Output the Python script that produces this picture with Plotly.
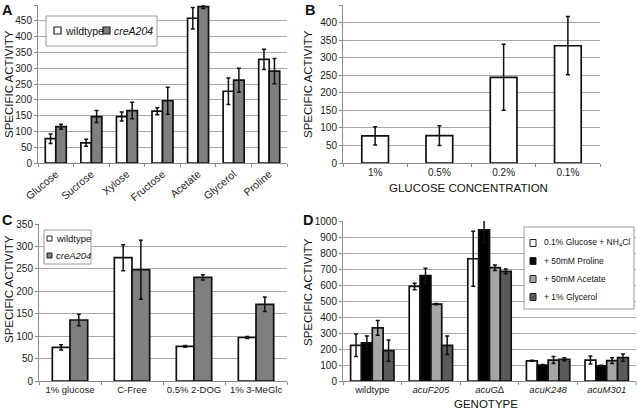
import plotly.graph_objects as go

W, H = 637, 412
FONT = "Liberation Sans, Arial, sans-serif"

# ---------------- data ----------------
a_cats = ["Glucose", "Sucrose", "Xylose", "Fructose", "Acetate", "Glycerol", "Proline"]
a_wt = [77, 64, 147, 164, 458, 227, 328]
a_wt_err = [15, 11, 14, 11, 34, 42, 32]
a_cre = [115, 147, 166, 197, 495, 262, 291]
a_cre_err = [8, 19, 26, 43, 6, 38, 40]

b_cats = ["1%", "0.5%", "0.2%", "0.1%"]
b_vals = [77, 78, 244, 334]
b_err = [26, 28, 94, 83]

c_cats = ["1% glucose", "C-Free", "0.5% 2-DOG", "1% 3-MeGlc"]
c_wt = [75, 275, 77, 97]
c_wt_err = [6, 29, 2, 2]
c_cre = [136, 248, 231, 171]
c_cre_err = [13, 66, 6, 16]

d_cats = ["wildtype", "acuF205", "acuGΔ", "acuK248", "acuM301"]
d_ticktext = ["wildtype", "<i>acuF205</i>", "<i>acuG</i>∆", "<i>acuK248</i>", "<i>acuM301</i>"]
d_names = ["0.1% Glucose + NH<sub>4</sub>Cl", "+ 50mM Proline", "+ 50mM Acetate", "+ 1% Glycerol"]
d_glucose = [223, 591, 764, 126, 131]
d_glucose_err = [70, 20, 172, 3, 25]
d_proline = [238, 658, 944, 100, 95]
d_proline_err = [44, 47, 78, 3, 3]
d_acetate = [332, 480, 708, 131, 127]
d_acetate_err = [46, 4, 17, 22, 18]
d_glycerol = [190, 223, 685, 136, 146]
d_glycerol_err = [66, 58, 15, 9, 23]

# ---------------- style ----------------
WHITE = "#ffffff"
GRAY = "#7f7f7f"
BLACK = "#000000"
LGRAY = "#a6a6a6"
DGRAY = "#5a5a5a"
GRID = "#a9a9a9"
AXIS = "#8c8c8c"


def X(px):
    return px / W


def Y(py):
    return 1 - py / H


fig = go.Figure()


def bar(x, y, err, color, xa, ya, width, offset):
    fig.add_trace(go.Bar(
        x=x, y=y, xaxis=xa, yaxis=ya,
        width=width, offset=offset,
        marker=dict(color=color, line=dict(color="#111111", width=1.7)),
        error_y=dict(type="data", array=err, visible=True, color="#111111", thickness=1.5, width=2),
        cliponaxis=False, showlegend=False,
    ))


# Panel A
bar(a_cats, a_wt, a_wt_err, WHITE, "x", "y", 0.295, -0.295)
bar(a_cats, a_cre, a_cre_err, GRAY, "x", "y", 0.295, 0.0)
# Panel B
bar(b_cats, b_vals, b_err, WHITE, "x2", "y2", 0.415, -0.2075)
# Panel C
bar(c_cats, c_wt, c_wt_err, WHITE, "x3", "y3", 0.285, -0.285)
bar(c_cats, c_cre, c_cre_err, GRAY, "x3", "y3", 0.285, 0.0)
# Panel D
dw = 0.185
for vals, errs, col, k in [(d_glucose, d_glucose_err, WHITE, -2), (d_proline, d_proline_err, BLACK, -1),
                           (d_acetate, d_acetate_err, LGRAY, 0), (d_glycerol, d_glycerol_err, DGRAY, 1)]:
    bar(d_cats, vals, errs, col, "x4", "y4", dw, k * dw)


def tf(size):
    return dict(family=FONT, size=size, color="#1a1a1a")


def xax(dom, anchor, n, size=10, **kw):
    d = dict(domain=[X(dom[0]), X(dom[1])], anchor=anchor, type="category",
             range=[-0.5, n - 0.5], showline=True, linecolor=AXIS, linewidth=1,
             ticks="outside", tickson="boundaries", ticklen=3, tickcolor=AXIS,
             showgrid=False, tickfont=tf(size), fixedrange=True, automargin=False,
             tickangle=0)
    d.update(kw)
    return d


def yax(dom, anchor, top, dtick):
    return dict(domain=[Y(dom[1]), Y(dom[0])], anchor=anchor, range=[0, top], dtick=dtick,
                showline=True, linecolor=AXIS, linewidth=1, ticks="outside", ticklen=3,
                tickcolor=AXIS, showgrid=True, gridcolor=GRID, gridwidth=1,
                zeroline=False, tickfont=tf(10), fixedrange=True, automargin=False)


fig.update_layout(
    template="none",
    width=W, height=H, margin=dict(l=0, r=0, t=0, b=0, pad=0, autoexpand=False),
    paper_bgcolor="white", plot_bgcolor="white",
    barmode="overlay", showlegend=False, hovermode=False,
    font=dict(family=FONT, color="#1a1a1a"),
    xaxis=xax((38, 287), "y", len(a_cats), 10.5, tickangle=-40),
    yaxis=yax((5, 163), "x", 500, 50),
    xaxis2=xax((343, 600), "y2", len(b_cats), 10),
    yaxis2=yax((5, 163), "x2", 450, 50),
    xaxis3=xax((39, 287), "y3", len(c_cats), 9.5),
    yaxis3=yax((224, 381), "x3", 350, 50),
    xaxis4=xax((343, 636), "y4", len(d_cats), 9.5, tickmode="array", tickvals=d_cats, ticktext=d_ticktext),
    yaxis4=yax((221, 381), "x4", 1000, 100),
)

ann = []
shapes = []


def text(px, py, s, size=11, xanchor="center", yanchor="middle", angle=0, bold=False):
    ann.append(dict(x=X(px), y=Y(py), xref="paper", yref="paper", text=("<b>%s</b>" % s) if bold else s,
                    showarrow=False, xanchor=xanchor, yanchor=yanchor, textangle=angle,
                    font=dict(family=FONT, size=size, color="#111111")))


# panel letters
text(0, 10, "A", 14.5, "left", bold=True)
text(303, 10, "B", 14.5, "left", bold=True)
text(0, 220, "C", 14.5, "left", bold=True)
text(301, 220, "D", 14.5, "left", bold=True)

# axis titles
text(9, 84, "SPECIFIC ACTIVITY", 11.5, angle=-90)
text(308, 84, "SPECIFIC ACTIVITY", 11.5, angle=-90)
text(9, 289, "SPECIFIC ACTIVITY", 11.5, angle=-90)
text(308, 292, "SPECIFIC ACTIVITY", 11.5, angle=-90)
text(468, 188, "GLUCOSE CONCENTRATION", 11.5)
text(486, 404, "GENOTYPE", 11.5)


def rect(x0, y0, x1, y1, fill, line="#333333", lw=1):
    shapes.append(dict(type="rect", xref="paper", yref="paper", x0=X(x0), x1=X(x1), y0=Y(y1), y1=Y(y0),
                       fillcolor=fill, line=dict(color=line, width=lw)))


# legend A
rect(46, 16, 157, 46, WHITE, "#9a9a9a", 1)
rect(54, 27, 61, 34, WHITE, "#222222", 1.2)
text(63, 30.5, "wildtype", 10.5, "left")
rect(103, 27, 110, 34, GRAY, "#222222", 1.2)
text(112, 30.5, "<i>creA204</i>", 10.5, "left")

# legend C
rect(44, 230, 91, 264, WHITE, "#9a9a9a", 1)
rect(47, 236, 52, 241, WHITE, "#222222", 1)
text(54, 238.5, "wildtype", 9.5, "left")
rect(47, 253, 52, 258, GRAY, "#222222", 1)
text(54, 255.5, "<i>creA204</i>", 9.5, "left")

# legend D
rect(524, 227, 634, 309, WHITE, "#9a9a9a", 1)
for (name, col, yy) in zip(d_names, [WHITE, BLACK, LGRAY, DGRAY], [243, 261, 279, 297]):
    rect(530, yy - 3.5, 536, yy + 3.5, col, "#222222", 1)
    text(542, yy, name, 8.5, "left")

fig.update_layout(annotations=ann, shapes=shapes)
fig.write_html("out.html", config={"displayModeBar": False, "staticPlot": True},
               post_script="document.body.style.margin='0px';document.body.style.overflow='hidden';")
